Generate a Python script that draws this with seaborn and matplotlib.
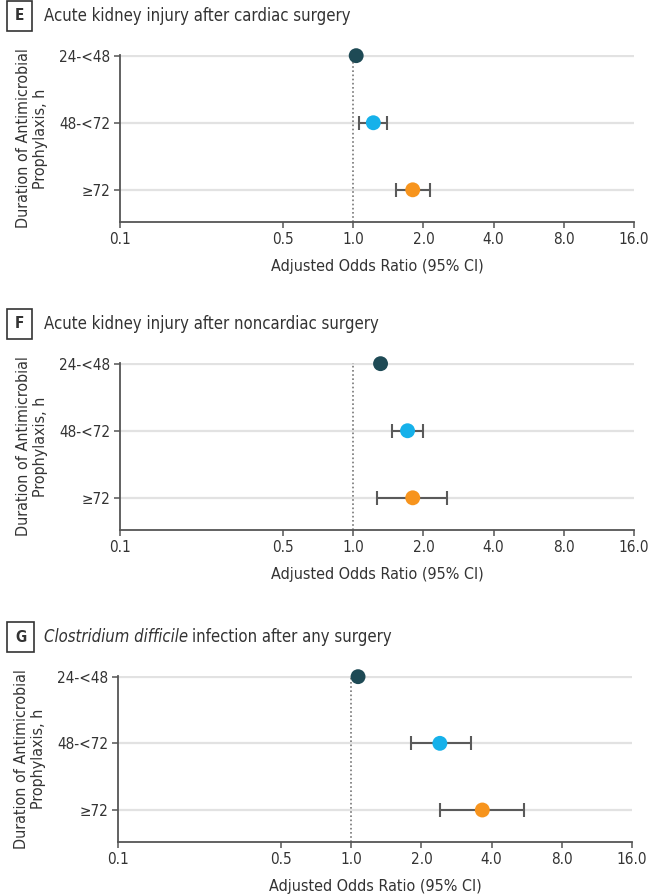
import numpy as np
import pandas as pd
import matplotlib.pyplot as plt
from matplotlib.ticker import NullLocator
import seaborn as sns

# Categorias e cores
categorias = ["24-<48", "48-<72", "≥72"]
cores = ["#1e4a55", "#16b1ea", "#f7941d"]
ticks_x = [0.1, 0.5, 1.0, 2.0, 4.0, 8.0, 16.0]
rotulos_x = ["0.1", "0.5", "1.0", "2.0", "4.0", "8.0", "16.0"]

# Painel E - lesão renal aguda após cirurgia cardíaca
or_e = [1.03, 1.22, 1.80]
inf_e = [np.nan, 1.06, 1.53]
sup_e = [np.nan, 1.39, 2.14]

# Painel F - lesão renal aguda após cirurgia não cardíaca
or_f = [1.31, 1.71, 1.80]
inf_f = [np.nan, 1.47, 1.27]
sup_f = [np.nan, 2.00, 2.53]

# Painel G - infecção por C. difficile
or_g = [1.07, 2.40, 3.65]
inf_g = [np.nan, 1.81, 2.40]
sup_g = [np.nan, 3.27, 5.51]

sns.set_theme(style="white")
plt.rcParams["font.family"] = ["DejaVu Sans", "Liberation Sans"]
plt.rcParams["font.stretch"] = "condensed"

COR_TEXTO = "#333333"
COR_EIXO = "#555555"


def painel(fig, pos, letra, titulo, odds, inf, sup, italico=None):
    ax = fig.add_axes(pos)
    df = pd.DataFrame({
        "cat": categorias,
        "pos": range(len(categorias)),
        "or": odds,
        "inf": inf,
        "sup": sup,
    })
    ax.yaxis.grid(True, color="#e2e2e2", lw=1.6, zorder=0)
    ax.axvline(1.0, color="#777777", ls=(0, (1, 1.5)), lw=1.2, zorder=1)
    ic = df.dropna()
    ax.errorbar(ic["or"], ic["pos"], xerr=[ic["or"] - ic["inf"], ic["sup"] - ic["or"]],
                fmt="none", ecolor="#5a5a5a", elinewidth=1.5, capsize=5, capthick=1.5, zorder=2)
    sns.scatterplot(data=df, x="or", y="pos", hue="cat", palette=cores, s=115,
                    linewidth=0, legend=False, zorder=3, ax=ax, clip_on=False)
    ax.set_xscale("log")
    ax.set_xlim(0.1, 16)
    ax.xaxis.set_minor_locator(NullLocator())
    ax.set_xticks(ticks_x, rotulos_x)
    ax.set_ylim(2.48, -0.01)
    ax.set_yticks(range(len(categorias)), categorias)
    for lado in ["top", "right"]:
        ax.spines[lado].set_visible(False)
    for lado in ["left", "bottom"]:
        ax.spines[lado].set_color(COR_EIXO)
        ax.spines[lado].set_linewidth(1.3)
    ax.tick_params(axis="both", which="major", length=4, width=1.1, color=COR_EIXO,
                   labelsize=11, labelcolor=COR_TEXTO, bottom=True, left=True, pad=3)
    ax.set_xlabel("Adjusted Odds Ratio (95% CI)", fontsize=11.5, color=COR_TEXTO, labelpad=9)
    ax.set_ylabel("Duration of Antimicrobial\nProphylaxis, h", fontsize=11.5,
                  color=COR_TEXTO, labelpad=8, linespacing=1.15)

    # Título do painel com letra em caixa
    topo = pos[1] + pos[3]
    y_tit = topo + 39 / 896
    fig.text(15 / 652, y_tit, letra, fontsize=11, fontweight="bold", color=COR_TEXTO,
             ha="left", va="center",
             bbox=dict(boxstyle="square,pad=0.5", fc="white", ec=COR_TEXTO, lw=1.2))
    if italico:
        t1 = fig.text(44 / 652, y_tit, italico, fontsize=12, style="italic",
                      color=COR_TEXTO, ha="left", va="center")
        ax.annotate(titulo, xy=(1, 0.5), xycoords=t1, xytext=(3, 0), textcoords="offset points",
                    fontsize=12, color=COR_TEXTO, ha="left", va="center",
                    annotation_clip=False)
    else:
        fig.text(44 / 652, y_tit, titulo, fontsize=12, color=COR_TEXTO, ha="left", va="center")
    return ax


fig = plt.figure(figsize=(6.52, 8.96), dpi=100)

painel(fig, [120 / 652, 1 - 222 / 896, 514 / 652, 167 / 896], "E",
       "Acute kidney injury after cardiac surgery", or_e, inf_e, sup_e)
painel(fig, [120 / 652, 1 - 530 / 896, 514 / 652, 167 / 896], "F",
       "Acute kidney injury after noncardiac surgery", or_f, inf_f, sup_f)
painel(fig, [118 / 652, 1 - 842 / 896, 514 / 652, 166 / 896], "G",
       "infection after any surgery", or_g, inf_g, sup_g, italico="Clostridium difficile")

fig.savefig("out.png", dpi=100)
